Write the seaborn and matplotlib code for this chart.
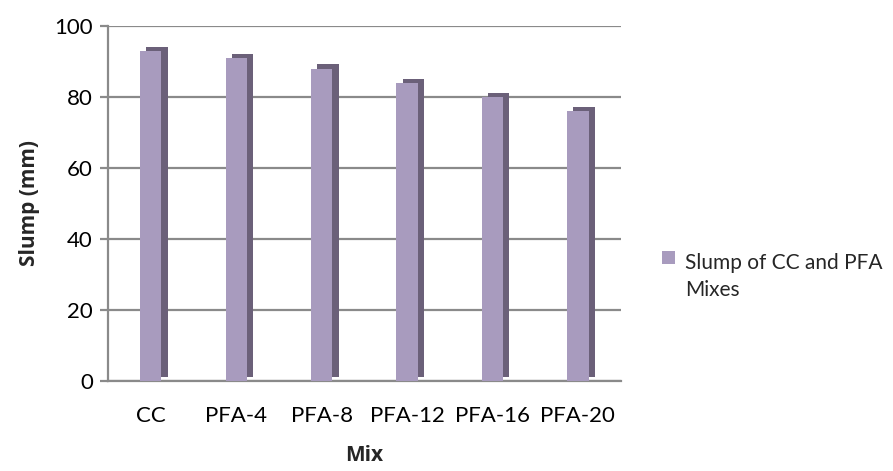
import matplotlib
matplotlib.use("Agg")
import matplotlib.pyplot as plt
import matplotlib.patheffects as pe
from matplotlib.patches import Patch
import seaborn as sns
import pandas as pd

mixes = ["CC", "PFA-4", "PFA-8", "PFA-12", "PFA-16", "PFA-20"]
slump = [93, 91, 88, 84, 80, 76]
series_name = "Slump of CC and PFA\nMixes"

df = pd.DataFrame({"Mix": mixes, "Slump": slump})

sns.set_theme(style="white")
plt.rcParams["font.family"] = ["Lato", "DejaVu Sans"]

fig = plt.figure(figsize=(8.93, 4.71), dpi=100)
ax = fig.add_axes([0.121, 0.191, 0.574, 0.754])

bar_color = "#A89BBE"
side_color = "#6B6079"
sns.barplot(data=df, x="Mix", y="Slump", color=bar_color, width=0.25,
            saturation=1, ax=ax, zorder=3, linewidth=0, edgecolor="none")
for p in ax.patches:
    p.set_path_effects([pe.SimplePatchShadow(offset=(4.5, 3), shadow_rgbFace=side_color, alpha=1.0),
                        pe.Normal()])

ax.set_ylim(0, 100)
ax.set_yticks([0, 20, 40, 60, 80, 100])
ax.yaxis.grid(True, color="#8A8A8A", linewidth=1.6, zorder=0)
ax.set_axisbelow(True)
for s in ["top", "right"]:
    ax.spines[s].set_visible(False)
for s in ["left", "bottom"]:
    ax.spines[s].set_color("#8A8A8A")
    ax.spines[s].set_linewidth(1.6)
ax.tick_params(axis="y", left=True, length=6, width=1.6, color="#8A8A8A",
               labelsize=16, pad=5, labelcolor="black")
ax.tick_params(axis="x", bottom=False, labelsize=16, pad=12, labelcolor="black")
ax.set_ylabel("Slump (mm)", fontsize=15, fontweight="bold", labelpad=10,
              family=["Open Sans", "DejaVu Sans"])
ax.set_xlabel("Mix", fontsize=15, fontweight="bold", labelpad=14,
              family=["Open Sans", "DejaVu Sans"])

leg = ax.legend(handles=[Patch(facecolor=bar_color, edgecolor="none", label=series_name)],
                loc="center left", bbox_to_anchor=(1.045, 0.35), frameon=False,
                fontsize=15, handlelength=0.6, handleheight=0.6, handletextpad=0.5,
                labelspacing=0.2)
for t in leg.get_texts():
    t.set_linespacing(1.45)
    t.set_verticalalignment("center")

fig.savefig("out.png", dpi=100)
